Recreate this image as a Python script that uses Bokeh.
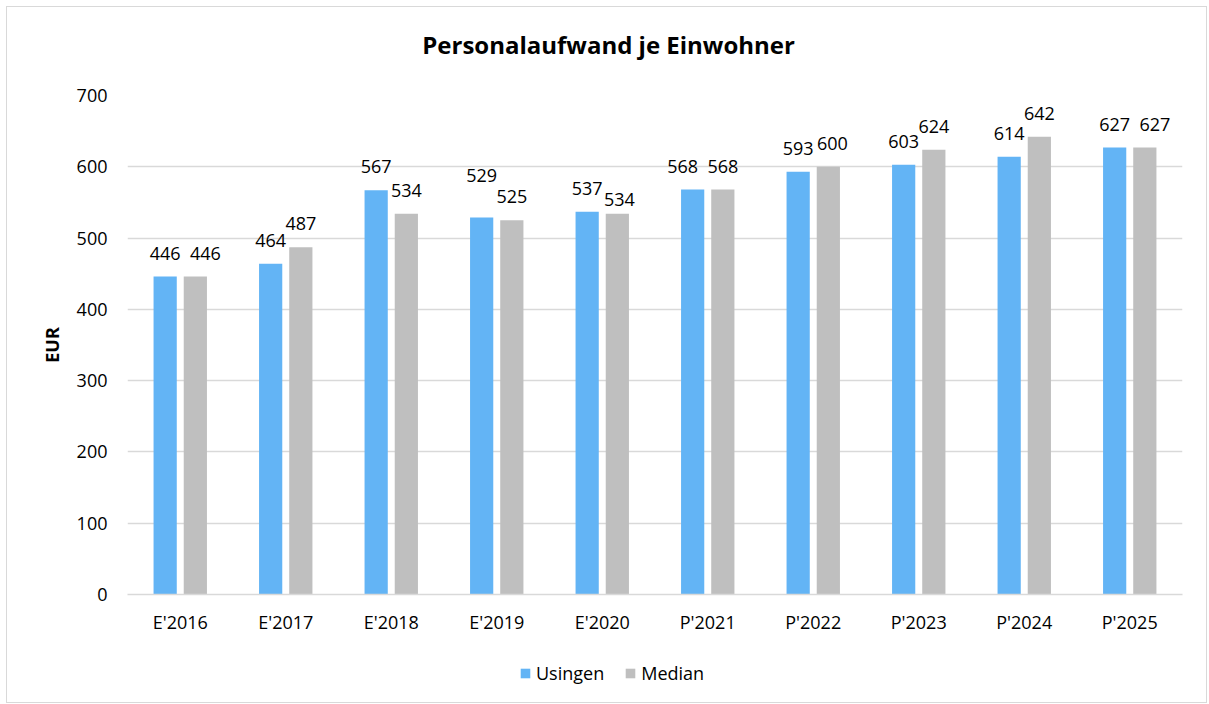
from bokeh.plotting import figure
from bokeh.models import (ColumnDataSource, Range1d, SingleIntervalTicker, Legend,
                          LegendItem, Label)
from bokeh.layouts import column
from bokeh.core.properties import value
from bokeh.transform import dodge
from bokeh.embed import file_html
from bokeh.resources import INLINE

categories = ["E'2016", "E'2017", "E'2018", "E'2019", "E'2020",
              "P'2021", "P'2022", "P'2023", "P'2024", "P'2025"]
usingen = [446, 464, 567, 529, 537, 568, 593, 603, 614, 627]
median = [446, 487, 534, 525, 534, 568, 600, 624, 642, 627]
y_ticks_interval = 100
title_text = "Personalaufwand je Einwohner"
y_label = "EUR"
series_names = ["Usingen", "Median"]

# label nudges (screen px) as Excel placed overlapping data labels
usingen_lbl_dx = [0, 0, 0, 0, 0, -10, 0, 0, 0, 0]
usingen_lbl_dy = [0, 0, 0, -18, 0, 0, 0, 0, 0, 0]
median_lbl_dx = [10, 0, 0, 0, 2, 0, 4, 0, 0, 10]
median_lbl_dy = [0, 0, 0, 0, 9, 0, 0, 0, 0, 0]

FONT = "Open Sans"
BLUE = "#63B4F5"
GRAY = "#BFBFBF"
GRID = "#D9D9D9"
LBL_UP = -23.5

src = ColumnDataSource(dict(
    cat=categories,
    usingen=usingen,
    median=median,
    usingen_lbl=[str(v) for v in usingen],
    median_lbl=[str(v) for v in median],
    u_dx=usingen_lbl_dx,
    u_dy=[LBL_UP + d for d in usingen_lbl_dy],
    m_dx=median_lbl_dx,
    m_dy=[LBL_UP + d for d in median_lbl_dy],
))

W = 1199


def strip(height):
    f = figure(width=W, height=height, output_backend="svg", toolbar_location=None,
               x_range=Range1d(0, 1), y_range=Range1d(0, 1),
               x_axis_location=None, y_axis_location=None,
               min_border_left=0, min_border_right=0,
               min_border_top=0, min_border_bottom=0)
    f.outline_line_color = None
    f.xgrid.visible = False
    f.ygrid.visible = False
    f.background_fill_color = "white"
    f.border_fill_color = "white"
    return f


# ---- title strip ----
p0 = strip(76)
p0.add_layout(Label(x=0.456, y=0.5, text=title_text, text_align="center",
                    text_baseline="middle", y_offset=1, text_font=FONT,
                    text_font_style="bold", text_font_size="24px",
                    text_color="#000000"))

# ---- main chart ----
p = figure(x_range=categories, y_range=Range1d(0, 700),
           width=W, height=569, output_backend="svg",
           toolbar_location=None, min_border_left=120, min_border_right=24,
           min_border_top=12, min_border_bottom=58)
p.outline_line_color = None
p.background_fill_color = "white"
p.border_fill_color = "white"

r1 = p.vbar(x=dodge("cat", -0.143, range=p.x_range), top="usingen", width=0.22,
            source=src, fill_color=BLUE, line_color=None)
r2 = p.vbar(x=dodge("cat", 0.143, range=p.x_range), top="median", width=0.22,
            source=src, fill_color=GRAY, line_color=None)

p.text(x=dodge("cat", -0.143, range=p.x_range), y="usingen", text="usingen_lbl",
       source=src, text_align="center", text_baseline="middle",
       x_offset="u_dx", y_offset="u_dy",
       text_font=value(FONT), text_font_size="18px", text_color="#000000")
p.text(x=dodge("cat", 0.143, range=p.x_range), y="median", text="median_lbl",
       source=src, text_align="center", text_baseline="middle",
       x_offset="m_dx", y_offset="m_dy",
       text_font=value(FONT), text_font_size="18px", text_color="#000000")

p.yaxis.ticker = SingleIntervalTicker(interval=y_ticks_interval)
p.yaxis.axis_line_color = None
p.yaxis.major_tick_line_color = None
p.yaxis.major_tick_out = 0
p.yaxis.major_tick_in = 0
p.yaxis.minor_tick_line_color = None
p.yaxis.major_label_standoff = 16
p.yaxis.major_label_text_font = FONT
p.yaxis.major_label_text_font_size = "18px"
p.yaxis.major_label_text_color = "#000000"
p.yaxis.axis_label = y_label
p.yaxis.axis_label_text_font = FONT
p.yaxis.axis_label_text_font_style = "bold"
p.yaxis.axis_label_text_font_size = "18px"
p.yaxis.axis_label_text_color = "#000000"
p.yaxis.axis_label_standoff = 10

p.xaxis.axis_line_color = GRID
p.xaxis.axis_line_width = 1.3
p.xaxis.major_tick_line_color = None
p.xaxis.major_tick_out = 0
p.xaxis.major_tick_in = 0
p.xaxis.minor_tick_line_color = None
p.xaxis.major_label_standoff = 15
p.xaxis.major_label_text_font = FONT
p.xaxis.major_label_text_font_size = "18px"
p.xaxis.major_label_text_color = "#000000"

p.xgrid.grid_line_color = None
p.ygrid.grid_line_color = GRID
p.ygrid.grid_line_width = 1.3

# ---- legend strip ----
p2 = strip(50)
# swatch renderers (their single point lies fully outside the strip's ranges)
l1 = p2.vbar(x=[-10], bottom=[-6], top=[-5], width=0.1, fill_color=BLUE, line_color=None)
l2 = p2.vbar(x=[-10], bottom=[-6], top=[-5], width=0.1, fill_color=GRAY, line_color=None)
legend = Legend(items=[LegendItem(label=series_names[0], renderers=[l1]),
                       LegendItem(label=series_names[1], renderers=[l2])],
                orientation="horizontal", location=(392, 17),
                padding=0, margin=0, spacing=20, label_standoff=5,
                glyph_width=12, glyph_height=12,
                label_text_font=FONT, label_text_font_size="18px",
                label_text_color="#000000",
                border_line_color=None, background_fill_alpha=0)
p2.add_layout(legend)

layout = column(p0, p, p2, spacing=0)
layout.styles = {"border": "1px solid #D9D9D9", "margin-left": "6px", "margin-top": "6px"}

open("out.html", "w").write(file_html(layout, INLINE))
